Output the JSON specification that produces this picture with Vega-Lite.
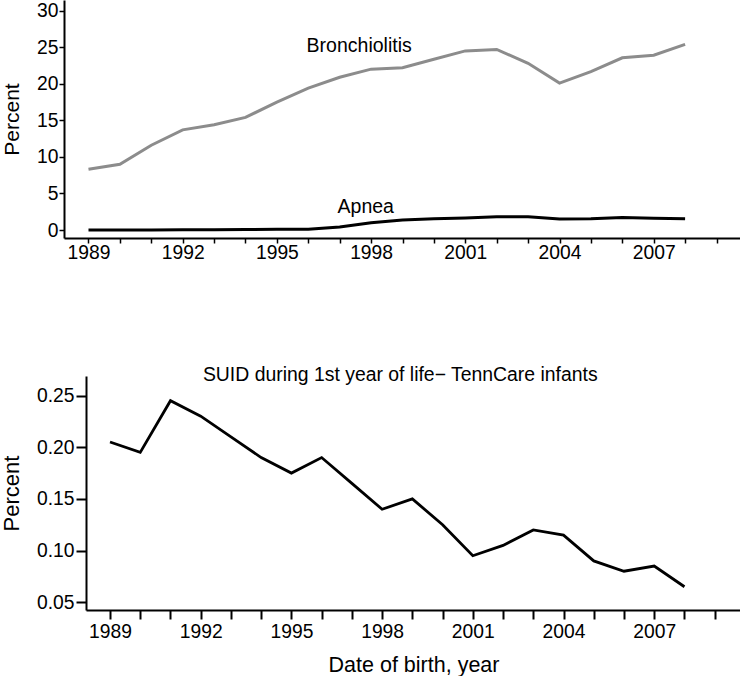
{
  "$schema": "https://vega.github.io/schema/vega-lite/v6.json",
  "padding": 0,
  "background": "white",
  "spacing": 138,
  "bounds": "flush",
  "config": {
    "view": {"stroke": null},
    "font": "Liberation Sans",
    "axis": {
      "labelFont": "Liberation Sans",
      "titleFont": "Liberation Sans",
      "labelColor": "black",
      "titleColor": "black",
      "titleFontWeight": "normal",
      "domainColor": "black",
      "tickColor": "black",
      "grid": false,
      "labelFlush": false,
      "labelOverlap": false,
      "tickCount": 100
    }
  },
  "datasets": {
    "top": [
      {"year": 1989, "series": "Bronchiolitis", "percent": 8.3},
      {"year": 1990, "series": "Bronchiolitis", "percent": 9.0},
      {"year": 1991, "series": "Bronchiolitis", "percent": 11.6},
      {"year": 1992, "series": "Bronchiolitis", "percent": 13.7},
      {"year": 1993, "series": "Bronchiolitis", "percent": 14.4},
      {"year": 1994, "series": "Bronchiolitis", "percent": 15.4},
      {"year": 1995, "series": "Bronchiolitis", "percent": 17.5},
      {"year": 1996, "series": "Bronchiolitis", "percent": 19.4},
      {"year": 1997, "series": "Bronchiolitis", "percent": 20.9},
      {"year": 1998, "series": "Bronchiolitis", "percent": 22.0},
      {"year": 1999, "series": "Bronchiolitis", "percent": 22.2},
      {"year": 2000, "series": "Bronchiolitis", "percent": 23.35},
      {"year": 2001, "series": "Bronchiolitis", "percent": 24.5},
      {"year": 2002, "series": "Bronchiolitis", "percent": 24.7},
      {"year": 2003, "series": "Bronchiolitis", "percent": 22.8},
      {"year": 2004, "series": "Bronchiolitis", "percent": 20.1},
      {"year": 2005, "series": "Bronchiolitis", "percent": 21.65},
      {"year": 2006, "series": "Bronchiolitis", "percent": 23.55},
      {"year": 2007, "series": "Bronchiolitis", "percent": 23.9},
      {"year": 2008, "series": "Bronchiolitis", "percent": 25.4},
      {"year": 1989, "series": "Apnea", "percent": 0.0},
      {"year": 1990, "series": "Apnea", "percent": 0.0},
      {"year": 1991, "series": "Apnea", "percent": 0.02},
      {"year": 1992, "series": "Apnea", "percent": 0.05},
      {"year": 1993, "series": "Apnea", "percent": 0.05},
      {"year": 1994, "series": "Apnea", "percent": 0.08},
      {"year": 1995, "series": "Apnea", "percent": 0.1},
      {"year": 1996, "series": "Apnea", "percent": 0.12},
      {"year": 1997, "series": "Apnea", "percent": 0.4},
      {"year": 1998, "series": "Apnea", "percent": 1.0},
      {"year": 1999, "series": "Apnea", "percent": 1.37},
      {"year": 2000, "series": "Apnea", "percent": 1.55},
      {"year": 2001, "series": "Apnea", "percent": 1.64},
      {"year": 2002, "series": "Apnea", "percent": 1.82},
      {"year": 2003, "series": "Apnea", "percent": 1.82},
      {"year": 2004, "series": "Apnea", "percent": 1.5},
      {"year": 2005, "series": "Apnea", "percent": 1.55},
      {"year": 2006, "series": "Apnea", "percent": 1.73},
      {"year": 2007, "series": "Apnea", "percent": 1.6},
      {"year": 2008, "series": "Apnea", "percent": 1.55}
    ],
    "topLabels": [
      {"label": "Bronchiolitis", "year": 1997.62, "percent": 24.39},
      {"label": "Apnea", "year": 1997.83, "percent": 2.28}
    ],
    "suid": [
      {"year": 1989, "percent": 0.205},
      {"year": 1990, "percent": 0.195},
      {"year": 1991, "percent": 0.245},
      {"year": 1992, "percent": 0.23},
      {"year": 1993, "percent": 0.21},
      {"year": 1994, "percent": 0.19},
      {"year": 1995, "percent": 0.175},
      {"year": 1996, "percent": 0.19},
      {"year": 1997, "percent": 0.165},
      {"year": 1998, "percent": 0.14},
      {"year": 1999, "percent": 0.15},
      {"year": 2000, "percent": 0.125},
      {"year": 2001, "percent": 0.095},
      {"year": 2002, "percent": 0.105},
      {"year": 2003, "percent": 0.12},
      {"year": 2004, "percent": 0.115},
      {"year": 2005, "percent": 0.09},
      {"year": 2006, "percent": 0.08},
      {"year": 2007, "percent": 0.085},
      {"year": 2008, "percent": 0.065}
    ],
    "suidTitle": [
      {"label": "SUID during 1st year of life\u2212 TennCare infants", "year": 1998.6, "percent": 0.2644}
    ]
  },
  "vconcat": [
    {
      "width": 677,
      "height": 238,
      "layer": [
        {
          "data": {"name": "top"},
          "mark": {"type": "line", "strokeWidth": 3},
          "encoding": {
            "x": {
              "field": "year", "type": "quantitative",
              "scale": {"domain": [1988.22, 2009.78], "nice": false, "zero": false},
              "axis": {
                "values": [1989,1990,1991,1992,1993,1994,1995,1996,1997,1998,1999,2000,2001,2002,2003,2004,2005,2006,2007,2008,2009],
                "tickCount": 100,
                "format": "d",
                "labelExpr": "datum.value % 3 === 0 ? datum.label : ''",
                "labelOverlap": false,
                "title": null,
                "tickSize": 5,
                "tickWidth": 1.5,
                "domainWidth": 2,
                "labelPadding": 0,
                "labelFontSize": 19.3
              }
            },
            "y": {
              "field": "percent", "type": "quantitative",
              "scale": {"domain": [-1.09, 31.46], "nice": false, "zero": false},
              "axis": {
                "values": [0, 5, 10, 15, 20, 25, 30],
                "tickCount": 100,
                "format": "d",
                "labelOverlap": false,
                "title": "Percent",
                "titleFontSize": 21,
                "titlePadding": 14.5,
                "tickSize": 5,
                "tickWidth": 1.5,
                "domainWidth": 2,
                "labelPadding": 1,
                "labelFontSize": 19.3
              }
            },
            "color": {
              "field": "series", "type": "nominal",
              "scale": {"domain": ["Bronchiolitis", "Apnea"], "range": ["#8c8c8c", "#000000"]},
              "legend": null
            }
          }
        },
        {
          "data": {"name": "topLabels"},
          "mark": {"type": "text", "fontSize": 19.5, "baseline": "alphabetic", "align": "center", "color": "black", "font": "Liberation Sans"},
          "encoding": {
            "x": {"field": "year", "type": "quantitative"},
            "y": {"field": "percent", "type": "quantitative"},
            "text": {"field": "label"}
          }
        }
      ]
    },
    {
      "bounds": "flush",
      "spacing": 21,
      "hconcat": [
        {
          "width": 1,
          "height": 1,
          "data": {"values": [{"a": 0}]},
          "mark": {"type": "point", "opacity": 0},
          "encoding": {}
        },
        {
          "width": 655,
          "height": 234,
          "layer": [
            {
              "data": {"name": "suid"},
              "mark": {"type": "line", "strokeWidth": 2.8, "color": "black"},
              "encoding": {
                "x": {
                  "field": "year", "type": "quantitative",
                  "scale": {"domain": [1988.206, 2009.87], "nice": false, "zero": false},
                  "axis": {
                    "values": [1989,1990,1991,1992,1993,1994,1995,1996,1997,1998,1999,2000,2001,2002,2003,2004,2005,2006,2007,2008,2009],
                    "tickCount": 100,
                    "format": "d",
                    "labelExpr": "datum.value % 3 === 0 ? datum.label : ''",
                    "labelOverlap": false,
                    "title": "Date of birth, year",
                    "titleFontSize": 21.5,
                    "titlePadding": 13,
                    "tickSize": 9,
                    "tickWidth": 2,
                    "domainWidth": 2,
                    "labelPadding": 3,
                    "labelFontSize": 19.3
                  }
                },
                "y": {
                  "field": "percent", "type": "quantitative",
                  "scale": {"domain": [0.0425, 0.2689], "nice": false, "zero": false},
                  "axis": {
                    "values": [0.05, 0.1, 0.15, 0.2, 0.25],
                    "tickCount": 100,
                    "format": ".2f",
                    "labelOverlap": false,
                    "title": "Percent",
                    "titleFontSize": 22,
                    "titlePadding": 13.4,
                    "tickSize": 10,
                    "tickWidth": 2,
                    "domainWidth": 2,
                    "labelPadding": 2,
                    "labelFontSize": 19.3
                  }
                }
              }
            },
            {
              "data": {"name": "suidTitle"},
              "mark": {"type": "text", "fontSize": 19.4, "baseline": "alphabetic", "align": "center", "color": "black", "font": "Liberation Sans"},
              "encoding": {
                "x": {"field": "year", "type": "quantitative"},
                "y": {"field": "percent", "type": "quantitative"},
                "text": {"field": "label"}
              }
            }
          ]
        }
      ]
    }
  ]
}
